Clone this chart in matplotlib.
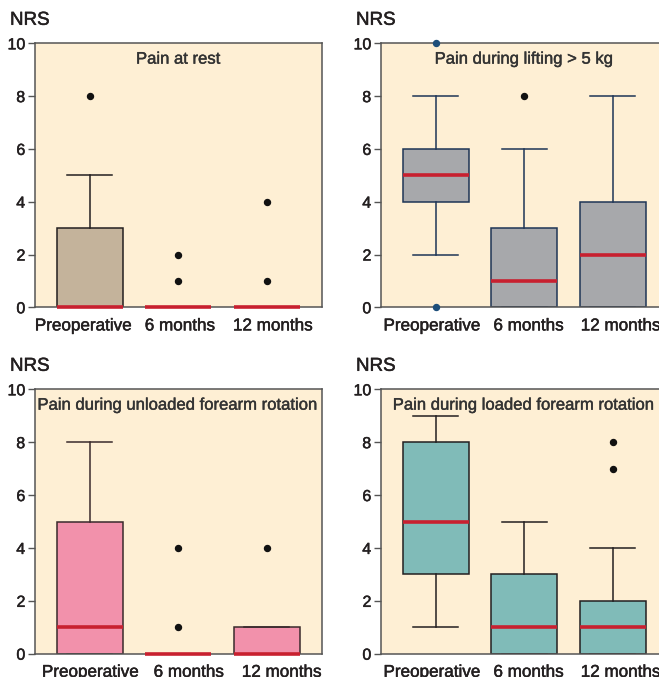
import matplotlib
matplotlib.use('Agg')
import matplotlib.pyplot as plt
import matplotlib.patheffects as pe

plt.rcParams['font.family'] = ['Liberation Sans', 'DejaVu Sans']

# --- data (NRS box statistics) --- #
groups = ["Preoperative", "6 months", "12 months"]
titles = ["Pain at rest", "Pain during lifting > 5 kg",
          "Pain during unloaded forearm rotation", "Pain during loaded forearm rotation"]

# each list: [preop, 6 months, 12 months]
rest_q1 = [0, 0, 0]
rest_med = [0, 0, 0]
rest_q3 = [3, 0, 0]
rest_lo = [0, 0, 0]
rest_hi = [5, 0, 0]
rest_fliers = [[8], [1, 2], [1, 4]]

lift_q1 = [4, 0, 0]
lift_med = [5, 1, 2]
lift_q3 = [6, 3, 4]
lift_lo = [2, 0, 0]
lift_hi = [8, 6, 8]
lift_fliers = [[0, 10], [8], []]

unl_q1 = [0, 0, 0]
unl_med = [1, 0, 0]
unl_q3 = [5, 0, 1]
unl_lo = [0, 0, 0]
unl_hi = [8, 0, 1]
unl_fliers = [[], [1, 4], [4]]

load_q1 = [3, 0, 0]
load_med = [5, 1, 1]
load_q3 = [8, 3, 2]
load_lo = [1, 0, 0]
load_hi = [9, 5, 4]
load_fliers = [[], [], [7, 8]]

box_colors = ["#C4B39B", "#A7A8AB", "#F291AB", "#80BBB8"]
line_colors = ["#231F20", "#1E3556", "#3A2A2C", "#231F20"]
bg = "#FEEFD4"
median_color = "#C8202F"
text_color = "#231F20"

panels = [
    (rest_q1, rest_med, rest_q3, rest_lo, rest_hi, rest_fliers),
    (lift_q1, lift_med, lift_q3, lift_lo, lift_hi, lift_fliers),
    (unl_q1, unl_med, unl_q3, unl_lo, unl_hi, unl_fliers),
    (load_q1, load_med, load_q3, load_lo, load_hi, load_fliers),
]

W, H = 659, 677
fig = plt.figure(figsize=(W / 100, H / 100), dpi=100)

# slight stroke so the text looks as heavy as the original
heavy = [pe.withStroke(linewidth=0.35, foreground=text_color)]

# axes positions in pixels (left, y of 10, y of 0)
ax_lefts = [35, 381, 35, 381]
ax_tops = [43.3, 43.3, 389.3, 389.3]
ax_bottoms = [307.3, 307.3, 653.7, 653.7]
ax_w = 286.5
# the category labels are spread a bit wider than the boxes in the original
label_pos = [[0.93, 2.02, 3.07], [0.96, 2.05, 3.09],
             [1.01, 2.12, 3.17], [0.96, 2.05, 3.09]]

for k, (q1, med, q3, lo, hi, fl) in enumerate(panels):
    left = ax_lefts[k]
    top = ax_tops[k]
    bot = ax_bottoms[k]
    ax = fig.add_axes([left / W, (H - bot) / H, ax_w / W, (bot - top) / H])
    ax.set_facecolor(bg)

    stats = []
    for i in range(3):
        stats.append({'med': med[i], 'q1': q1[i], 'q3': q3[i],
                      'whislo': lo[i], 'whishi': hi[i], 'fliers': fl[i]})
    lc = line_colors[k]
    bp = ax.bxp(stats, positions=[1, 2, 3], widths=0.75, capwidths=0.51,
                patch_artist=True, showfliers=False, manage_ticks=False,
                boxprops=dict(facecolor=box_colors[k], edgecolor=lc, linewidth=1.1),
                whiskerprops=dict(color=lc, linewidth=1.1),
                capprops=dict(color=lc, linewidth=1.1),
                medianprops=dict(color=median_color, linewidth=2.6))
    for m in bp['medians']:
        m.set_clip_on(False)
        m.set_zorder(5)

    # outlier dots
    for i in range(3):
        for v in fl[i]:
            c = "#111111"
            if k == 1 and i == 0:
                c = "#1D4E7A"
            ax.plot(i + 1, v, 'o', color=c, markersize=4.3, clip_on=False, zorder=6)

    ax.set_xlim(0.38, 3.62)
    ax.set_ylim(0, 10)
    ax.set_yticks([0, 2, 4, 6, 8, 10])
    ax.set_xticks(label_pos[k])
    ax.set_xticklabels(groups)
    ax.tick_params(axis='x', length=0, pad=8, labelsize=12.3, labelcolor=text_color)
    ax.tick_params(axis='y', length=5, width=1, color="#555555", pad=2,
                   labelsize=11.5, labelcolor=text_color)
    for lab in ax.get_xticklabels() + ax.get_yticklabels():
        lab.set_path_effects(heavy)
    for s in ax.spines.values():
        s.set_color("#555555")
        s.set_linewidth(1.1)

    ax.text(0.5, 0.94, titles[k], transform=ax.transAxes, ha='center', va='center',
            fontsize=12, color="#333333",
            path_effects=[pe.withStroke(linewidth=0.3, foreground="#333333")])
    fig.text((left - 25) / W, 1 - (top - 23) / H, "NRS", ha='left', va='center',
             fontsize=13.5, color=text_color, path_effects=heavy)

plt.savefig('out.png', dpi=100)
